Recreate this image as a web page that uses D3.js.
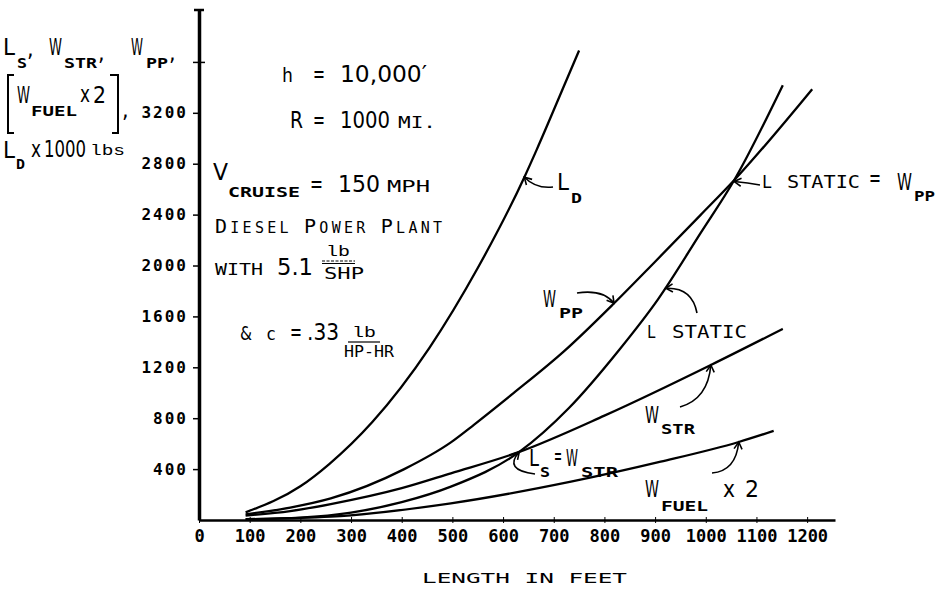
<!DOCTYPE html>
<html>
<head>
<meta charset="utf-8">
<script src="https://cdn.jsdelivr.net/npm/d3@7"></script>
<style>
body { margin: 0; background: #fff; }
.big { font-family: "DejaVu Sans Condensed", "DejaVu Sans", sans-serif; font-stretch: condensed; font-size: 23px; }
.sc  { font-family: "DejaVu Sans Mono", monospace; font-size: 15px; }
.sub { font-family: "DejaVu Sans Mono", monospace; font-size: 14px; font-weight: bold; }
.tw  { font-family: "Liberation Mono", "DejaVu Sans Mono", monospace; font-size: 17px; }
.line { fill: none; stroke: #000; stroke-width: 2.3px; }
</style>
</head>
<body>
<script>
// values: length in feet, weights in lbs (x 1000)
var lengthLD = [92, 200, 257, 342, 455, 550, 642, 666, 725, 750];
var liftDynamic = [60, 265, 440, 770, 1355, 1980, 2694, 2907, 3456, 3690];

var lengthPP = [92, 180, 260, 405, 497, 543, 620, 720, 819, 900, 990, 1056, 1210];
var weightPP = [45, 98, 170, 400, 610, 750, 995, 1325, 1703, 2030, 2398, 2670, 3386];

var lengthLS = [92, 200, 300, 400, 497, 632, 730, 829, 905, 990, 1056, 1152];
var liftStatic = [5, 18, 58, 140, 262, 535, 880, 1336, 1730, 2256, 2670, 3417];

var lengthSTR = [92, 180, 260, 400, 497, 632, 800, 1010, 1152];
var weightSTR = [35, 70, 125, 250, 367, 535, 820, 1218, 1502];

var lengthFuel = [92, 180, 260, 497, 734, 911, 1065, 1134];
var weightFuel = [6, 14, 26, 131, 301, 458, 613, 700];

var xTicks = [0, 100, 200, 300, 400, 500, 600, 700, 800, 900, 1000, 1100, 1200];
var yTicks = [400, 800, 1200, 1600, 2000, 2400, 2800, 3200, 3600];

// set the dimensions and margins of the graph
var margin = {top: 10, right: 108, bottom: 76, left: 199},
    width = 943 - margin.left - margin.right,
    height = 596 - margin.top - margin.bottom;

var x = d3.scaleLinear().domain([0, 1255]).range([0, width]);
var y = d3.scaleLinear().domain([0, 4008]).range([height, 0]);

var root = d3.select("body").append("svg")
    .attr("width", 943)
    .attr("height", 596);
root.append("rect").attr("width", 943).attr("height", 596).attr("fill", "#fff");

var defs = root.append("defs");
defs.append("marker")
    .attr("id", "tip")
    .attr("viewBox", "-9 -6 11 12")
    .attr("refX", 0).attr("refY", 0)
    .attr("markerWidth", 11).attr("markerHeight", 12)
    .attr("markerUnits", "userSpaceOnUse")
    .attr("orient", "auto")
  .append("path")
    .attr("d", "M-7,-4L0,0L-7,4")
    .attr("fill", "none")
    .attr("stroke", "#000")
    .attr("stroke-width", 1.6);

var svg = root.append("g")
    .attr("transform", "translate(" + margin.left + "," + margin.top + ")");

// curves
var valueline = d3.line()
    .x(function(d) { return x(d[0]); })
    .y(function(d) { return y(d[1]); })
    .curve(d3.curveMonotoneX);

[[lengthLD, liftDynamic], [lengthPP, weightPP], [lengthLS, liftStatic],
 [lengthSTR, weightSTR], [lengthFuel, weightFuel]].forEach(function(s) {
  svg.append("path")
      .datum(d3.zip(s[0], s[1]))
      .attr("class", "line")
      .attr("d", valueline);
});

// X axis
var gx = svg.append("g")
    .attr("transform", "translate(0," + height + ")")
    .call(d3.axisBottom(x).tickValues(xTicks).tickSize(3).tickSizeOuter(0).tickPadding(7)
      .tickFormat(d3.format("d")));
gx.select(".domain").attr("stroke-width", 2.5);
gx.selectAll("text").attr("font-family", "DejaVu Sans Mono").attr("font-weight", "bold")
    .attr("font-size", 17).attr("fill", "#000");
var gx2 = svg.append("g")
    .attr("transform", "translate(0," + height + ")")
    .call(d3.axisTop(x).tickValues(xTicks.slice(1)).tickSize(3).tickFormat(""));
gx2.select(".domain").remove();

// Y axis
var gy = svg.append("g")
    .call(d3.axisLeft(y).tickValues(yTicks).tickSize(6).tickSizeOuter(0).tickPadding(5)
      .tickFormat(function(d) { return d === 3600 ? "" : d; }));
gy.select(".domain").attr("stroke-width", 3.5);
gy.selectAll(".tick line").attr("stroke-width", 1.5);
gy.selectAll("text").attr("font-family", "DejaVu Sans Mono").attr("font-weight", "bold")
    .attr("font-size", 16).attr("letter-spacing", "2px").attr("fill", "#000");
var gy2 = svg.append("g")
    .call(d3.axisRight(y).tickValues([3600]).tickSize(6).tickFormat(""));
gy2.select(".domain").remove();
gy2.selectAll(".tick line").attr("stroke-width", 1.5);
svg.append("line").attr("x1", -5).attr("x2", 5).attr("y1", 0).attr("y2", 0)
    .attr("stroke", "#000").attr("stroke-width", 2.5);

// text labels
function label(xp, yp, str, cls, len, size) {
  var t = root.append("text").attr("x", xp).attr("y", yp).attr("class", cls).text(str);
  if (len) t.attr("textLength", len).attr("lengthAdjust", "spacingAndGlyphs");
  if (size) t.style("font-size", size + "px");
  return t;
}

// y axis title block
label(3, 55, "L", "big", 12);
label(17, 68, "S", "sub", 10);
label(27, 56, ",", "big");
label(49, 55, "W", "big", 13);
label(64, 68, "STR", "sub", 33);
label(98, 60, ",", "big");
label(131, 55, "W", "big", 12);
label(146, 68, "PP", "sub", 22);
label(169, 60, ",", "big");
root.append("path").attr("d", "M14,75H8V133H14M110,75H118V133H112")
    .attr("fill", "none").attr("stroke", "#000").attr("stroke-width", 2);
label(17, 103, "W", "big", 13);
label(31, 116, "FUEL", "sub", 46);
label(80, 102, "x", "big", 10);
label(93, 103, "2", "big", 13);
label(122, 117, ",", "big");
label(3, 158, "L", "big", 12);
label(16, 169, "D", "sub", 9);
label(31, 157, "x", "big", 10);
label(44, 157, "1000", "big", 42);
label(90, 155, "lbs", "tw", 35, 15);

// conditions
label(282, 82, "h", "tw", 11, 20);
label(313, 82, "=", "big", 12);
label(340, 82, "10,000\u2032", "big", 87);
label(290, 128, "R", "big", 13);
label(313, 128, "=", "big", 12);
label(340, 128, "1000", "big", 50);
label(398, 128, "MI.", "sc", 38);
label(213, 180, "V", "big", 15);
label(228, 197, "CRUISE", "sub", 72);
label(310, 192, "=", "big", 13);
label(338, 192, "150", "big", 42);
label(387, 192, "MPH", "sc", 43);
var dp = root.append("text").attr("x", 215).attr("y", 233).attr("class", "sc")
    .attr("textLength", 227).attr("lengthAdjust", "spacing");
[["D", 20], ["IESEL ", 15], ["P", 20], ["OWER ", 15], ["P", 20], ["LANT", 15]].forEach(function(p) {
  dp.append("tspan").style("font-size", p[1] + "px").text(p[0]);
});
label(215, 275, "WITH", "sc", 48);
label(277, 275, "5.1", "big", 36);
label(326, 256, "lb", "tw", 24, 15);
root.append("line").attr("x1", 322).attr("x2", 355).attr("y1", 261).attr("y2", 261)
    .attr("stroke", "#000").attr("stroke-width", 1.2).attr("stroke-dasharray", "3,1.5");
root.append("line").attr("x1", 322).attr("x2", 355).attr("y1", 263.5).attr("y2", 263.5)
    .attr("stroke", "#000").attr("stroke-width", 1);
label(324, 279, "SHP", "sc", 40);
label(240, 340, "&", "big", 12, 19);
label(266, 340, "c", "sc", 10, 17);
label(290, 340, "=", "big", 12);
label(307, 340, ".33", "big", 32);
label(352, 337, "lb", "tw", 24, 15);
root.append("line").attr("x1", 348).attr("x2", 380).attr("y1", 342).attr("y2", 342)
    .attr("stroke", "#000").attr("stroke-width", 1.2);
label(344, 357, "HP-HR", "sc", 50);

// curve labels
label(557, 190, "L", "big", 12);
label(571, 203, "D", "sub", 11);
label(762, 188, "L", "sc", 10, 17);
label(787, 188, "STATIC", "sc", 73, 17);
label(869, 186, "=", "big", 12);
label(897, 190, "W", "big", 15);
label(914, 201, "PP", "sub", 21);
label(543, 307, "W", "big", 13);
label(559, 318, "PP", "sub", 24);
label(647, 338, "L", "sc", 9, 17);
label(672, 338, "STATIC", "sc", 75, 17);
label(645, 423, "W", "big", 14);
label(661, 434, "STR", "sub", 34);
label(645, 497, "W", "big", 14);
label(661, 511, "FUEL", "sub", 47);
label(723, 497, "x", "big", 12);
label(745, 497, "2", "big", 14);
label(529, 466, "L", "big", 10);
label(540, 477, "S", "sub", 10);
label(554, 464, "=", "big", 8);
label(566, 466, "W", "big", 12);
label(581, 477, "STR", "sub", 37);
label(422, 583, "LENGTH IN FEET", "sc", 205, 14);

// pointer arrows: tail and bend in pixels, tip on a curve in data units
var arrows = [
  {tail: [553, 187], bend: [536, 189], tip: [642, 2694]},
  {tail: [760, 185], bend: [748, 183], tip: [1056, 2660]},
  {tail: [577, 293], bend: [603, 289], tip: [819, 1703]},
  {tail: [697, 313], bend: [692, 287], tip: [921, 1821]},
  {tail: [680, 407], bend: [708, 399], tip: [1010, 1218]},
  {tail: [712, 473], bend: [736, 471], tip: [1065, 613]},
  {tail: [535, 474], bend: [503, 470], tip: [632, 535]}
];
arrows.forEach(function(a) {
  var tx = margin.left + x(a.tip[0]), ty = margin.top + y(a.tip[1]);
  root.append("path")
      .attr("d", "M" + a.tail[0] + "," + a.tail[1] + "Q" + a.bend[0] + "," + a.bend[1] + " " + tx + "," + ty)
      .attr("fill", "none")
      .attr("stroke", "#000")
      .attr("stroke-width", 1.6)
      .attr("marker-end", "url(#tip)");
});
</script>
</body>
</html>
